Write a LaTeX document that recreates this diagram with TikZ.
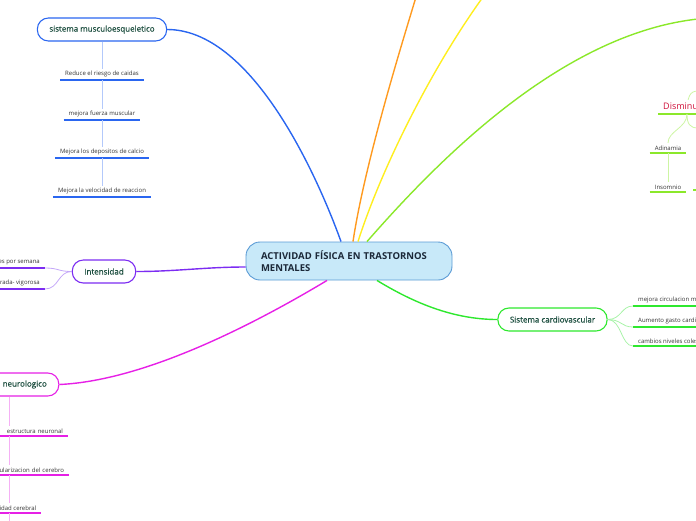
\documentclass[tikz,border=0pt]{standalone}
\usepackage{fontspec}
\setmainfont{Open Sans}
\newfontfamily\topicfont[FakeBold=0.35]{Open Sans}
\usetikzlibrary{calc}
\definecolor{ctfill}{HTML}{C8E9F9}
\definecolor{ctdraw}{HTML}{5B9BD5}
\definecolor{cttext}{HTML}{1B2838}
\definecolor{topictext}{HTML}{1B4D3E}
\definecolor{leaftext}{HTML}{333333}
\definecolor{bluedark}{HTML}{2A66F0}
\definecolor{bluelight}{HTML}{B3C9FB}
\definecolor{purpledark}{HTML}{7C2CF2}
\definecolor{purplelight}{HTML}{C3A6F8}
\definecolor{magentadark}{HTML}{E620E6}
\definecolor{magentalight}{HTML}{F5B0F5}
\definecolor{greendark}{HTML}{2EE82E}
\definecolor{greenlight}{HTML}{A8F3A8}
\definecolor{orangedark}{HTML}{FF9A1F}
\definecolor{yellowdark}{HTML}{FFEE1F}
\definecolor{limedark}{HTML}{8BE82A}
\definecolor{limelight}{HTML}{CDF5A3}
\definecolor{reddark}{HTML}{D0103A}
\begin{document}
\begin{tikzpicture}[
  x=1pt, y=-1pt,
  central/.style={rounded corners=14pt, draw=ctdraw, fill=ctfill, line width=0.9pt,
    minimum width=206pt, minimum height=38pt, inner xsep=15pt, text width=176pt,
    align=left, text=cttext, font=\fontsize{9.5}{12}\selectfont\bfseries},
  branch/.style={rounded corners=11pt, draw=#1, line width=1.1pt, fill=white,
    minimum height=23pt, inner xsep=12pt, text=topictext,
    font=\fontsize{8}{9}\selectfont\topicfont},
  leaf/.style={inner xsep=5pt, inner ysep=2.5pt, text=leaftext,
    font=\fontsize{6}{6.5}\selectfont,
    append after command={(\tikzlastnode.south west) edge[draw=#1, line width=1.4pt] (\tikzlastnode.south east)}},
  main/.style={draw=#1, line width=1.4pt},
  sub/.style={draw=#1, line width=0.8pt}
]
\useasboundingbox (0,0) rectangle (696,520);
\clip (0,0) rectangle (696,520);

\node[central] (ct) at (349,261) {ACTIVIDAD FÍSICA EN TRASTORNOS MENTALES};

\node[branch=bluedark] (mb) at (102,29.5) {sistema musculoesqueletico};
\node[leaf=bluedark, anchor=south] (m1) at (102,80) {Reduce el riesgo de caidas};
\node[leaf=bluedark, anchor=south] (m2) at (102,120) {mejora fuerza muscular};
\node[leaf=bluedark, anchor=south] (m3) at (102,158) {Mejora los depositos de calcio};
\node[leaf=bluedark, anchor=south] (m4) at (102,197) {Mejora la velocidad de reaccion};
\draw[sub=bluelight] (mb) -- (m1) -- (m2) -- (m3) -- (m4);
\draw[main=bluedark] (mb.east) .. controls +(83,0) and +(-26,-72) .. ($(ct.north)+(-8,0)$);

\node[branch=purpledark] (ib) at (104,271.5) {Intensidad};
\node[leaf=purpledark, anchor=south east] (i1) at (45,268) {veces por semana};
\node[leaf=purpledark, anchor=south east] (i2) at (45,289) {Moderada- vigorosa};
\draw[sub=purplelight] (ib.west) .. controls +(-14,0) and +(14,0) .. (i1.south east);
\draw[sub=purplelight] (ib.west) .. controls +(-14,0) and +(14,0) .. (i2.south east);
\draw[main=purpledark] (ib.east) .. controls +(40,0) and +(-40,0) .. ($(ct.west)+(0,6)$);

\node[branch=magentadark] (nb) at (9,384.5) {Sistema neurologico};
\node[leaf=magentadark, anchor=south, text width=108pt, align=right] (n1) at (9,436) {estructura neuronal};
\node[leaf=magentadark, anchor=south, text width=110pt, align=right] (n2) at (9,475) {vascularizacion del cerebro};
\node[leaf=magentadark, anchor=south] (n3) at (9,513) {Plasticidad cerebral};
\coordinate (nend) at (9,530);
\draw[sub=magentalight] (nb) -- (n1) -- (n2) -- (n3) -- (nend);
\draw[main=magentadark] (nb.east) .. controls +(89,-4) and +(-65,39) .. ($(ct.south)+(-22,0)$);

\node[branch=greendark] (cb) at (552.5,319.5) {Sistema cardiovascular};
\node[leaf=greendark, anchor=south west] (c1) at (633,306) {mejora circulacion muscular};
\node[leaf=greendark, anchor=south west] (c2) at (633,327) {Aumento gasto cardiaco};
\node[leaf=greendark, anchor=south west] (c3) at (633,346) {cambios niveles colesterol};
\draw[sub=greenlight] (cb.east) .. controls +(14,0) and +(-12,0) .. (c1.south west);
\draw[sub=greenlight] (cb.east) .. controls +(14,0) and +(-12,0) .. (c2.south west);
\draw[sub=greenlight] (cb.east) .. controls +(14,0) and +(-12,0) .. (c3.south west);
\draw[main=greendark] ($(ct.south)+(28,0)$) .. controls +(33,20) and +(-47,0) .. (cb.west);

\coordinate (or) at (416,-3);
\coordinate (ye) at (483,-3);
\coordinate (li) at (698,19);
\draw[main=orangedark] ($(ct.north)+(4,0)$) .. controls +(12,-80) and +(-12,40) .. (or);
\draw[main=yellowdark] ($(ct.north)+(9,0)$) .. controls +(23,-72) and +(-52,72) .. (ye);
\draw[main=limedark] ($(ct.north)+(18,0)$) .. controls +(70,-80) and +(-137,15) .. (li);

\coordinate (dj) at (687,114);
\coordinate (dup) at (698,91);
\coordinate (ddn) at (698,128);
\draw[sub=limelight] (dj) .. controls +(0,-18) and +(-8,0) .. (dup);
\node[leaf=limedark, anchor=south west, fill=white, text=reddark,
  font=\fontsize{9}{10}\selectfont] (dm) at (658,114) {Disminuye};
\node[leaf=limedark, anchor=south] (ad) at (668,153) {Adinamia};
\node[leaf=limedark, anchor=south] (in) at (668,192) {Insomnio};
\draw[sub=limelight] (dj) .. controls +(0,14) and +(0,-12) .. (ad.north);
\draw[sub=limelight] (dj) .. controls +(0,10) and +(-8,0) .. (ddn);
\draw[sub=limelight] (ad) -- (in);
\draw[limedark, line width=1.4pt] (693,190) -- (698,190);
\end{tikzpicture}
\end{document}
